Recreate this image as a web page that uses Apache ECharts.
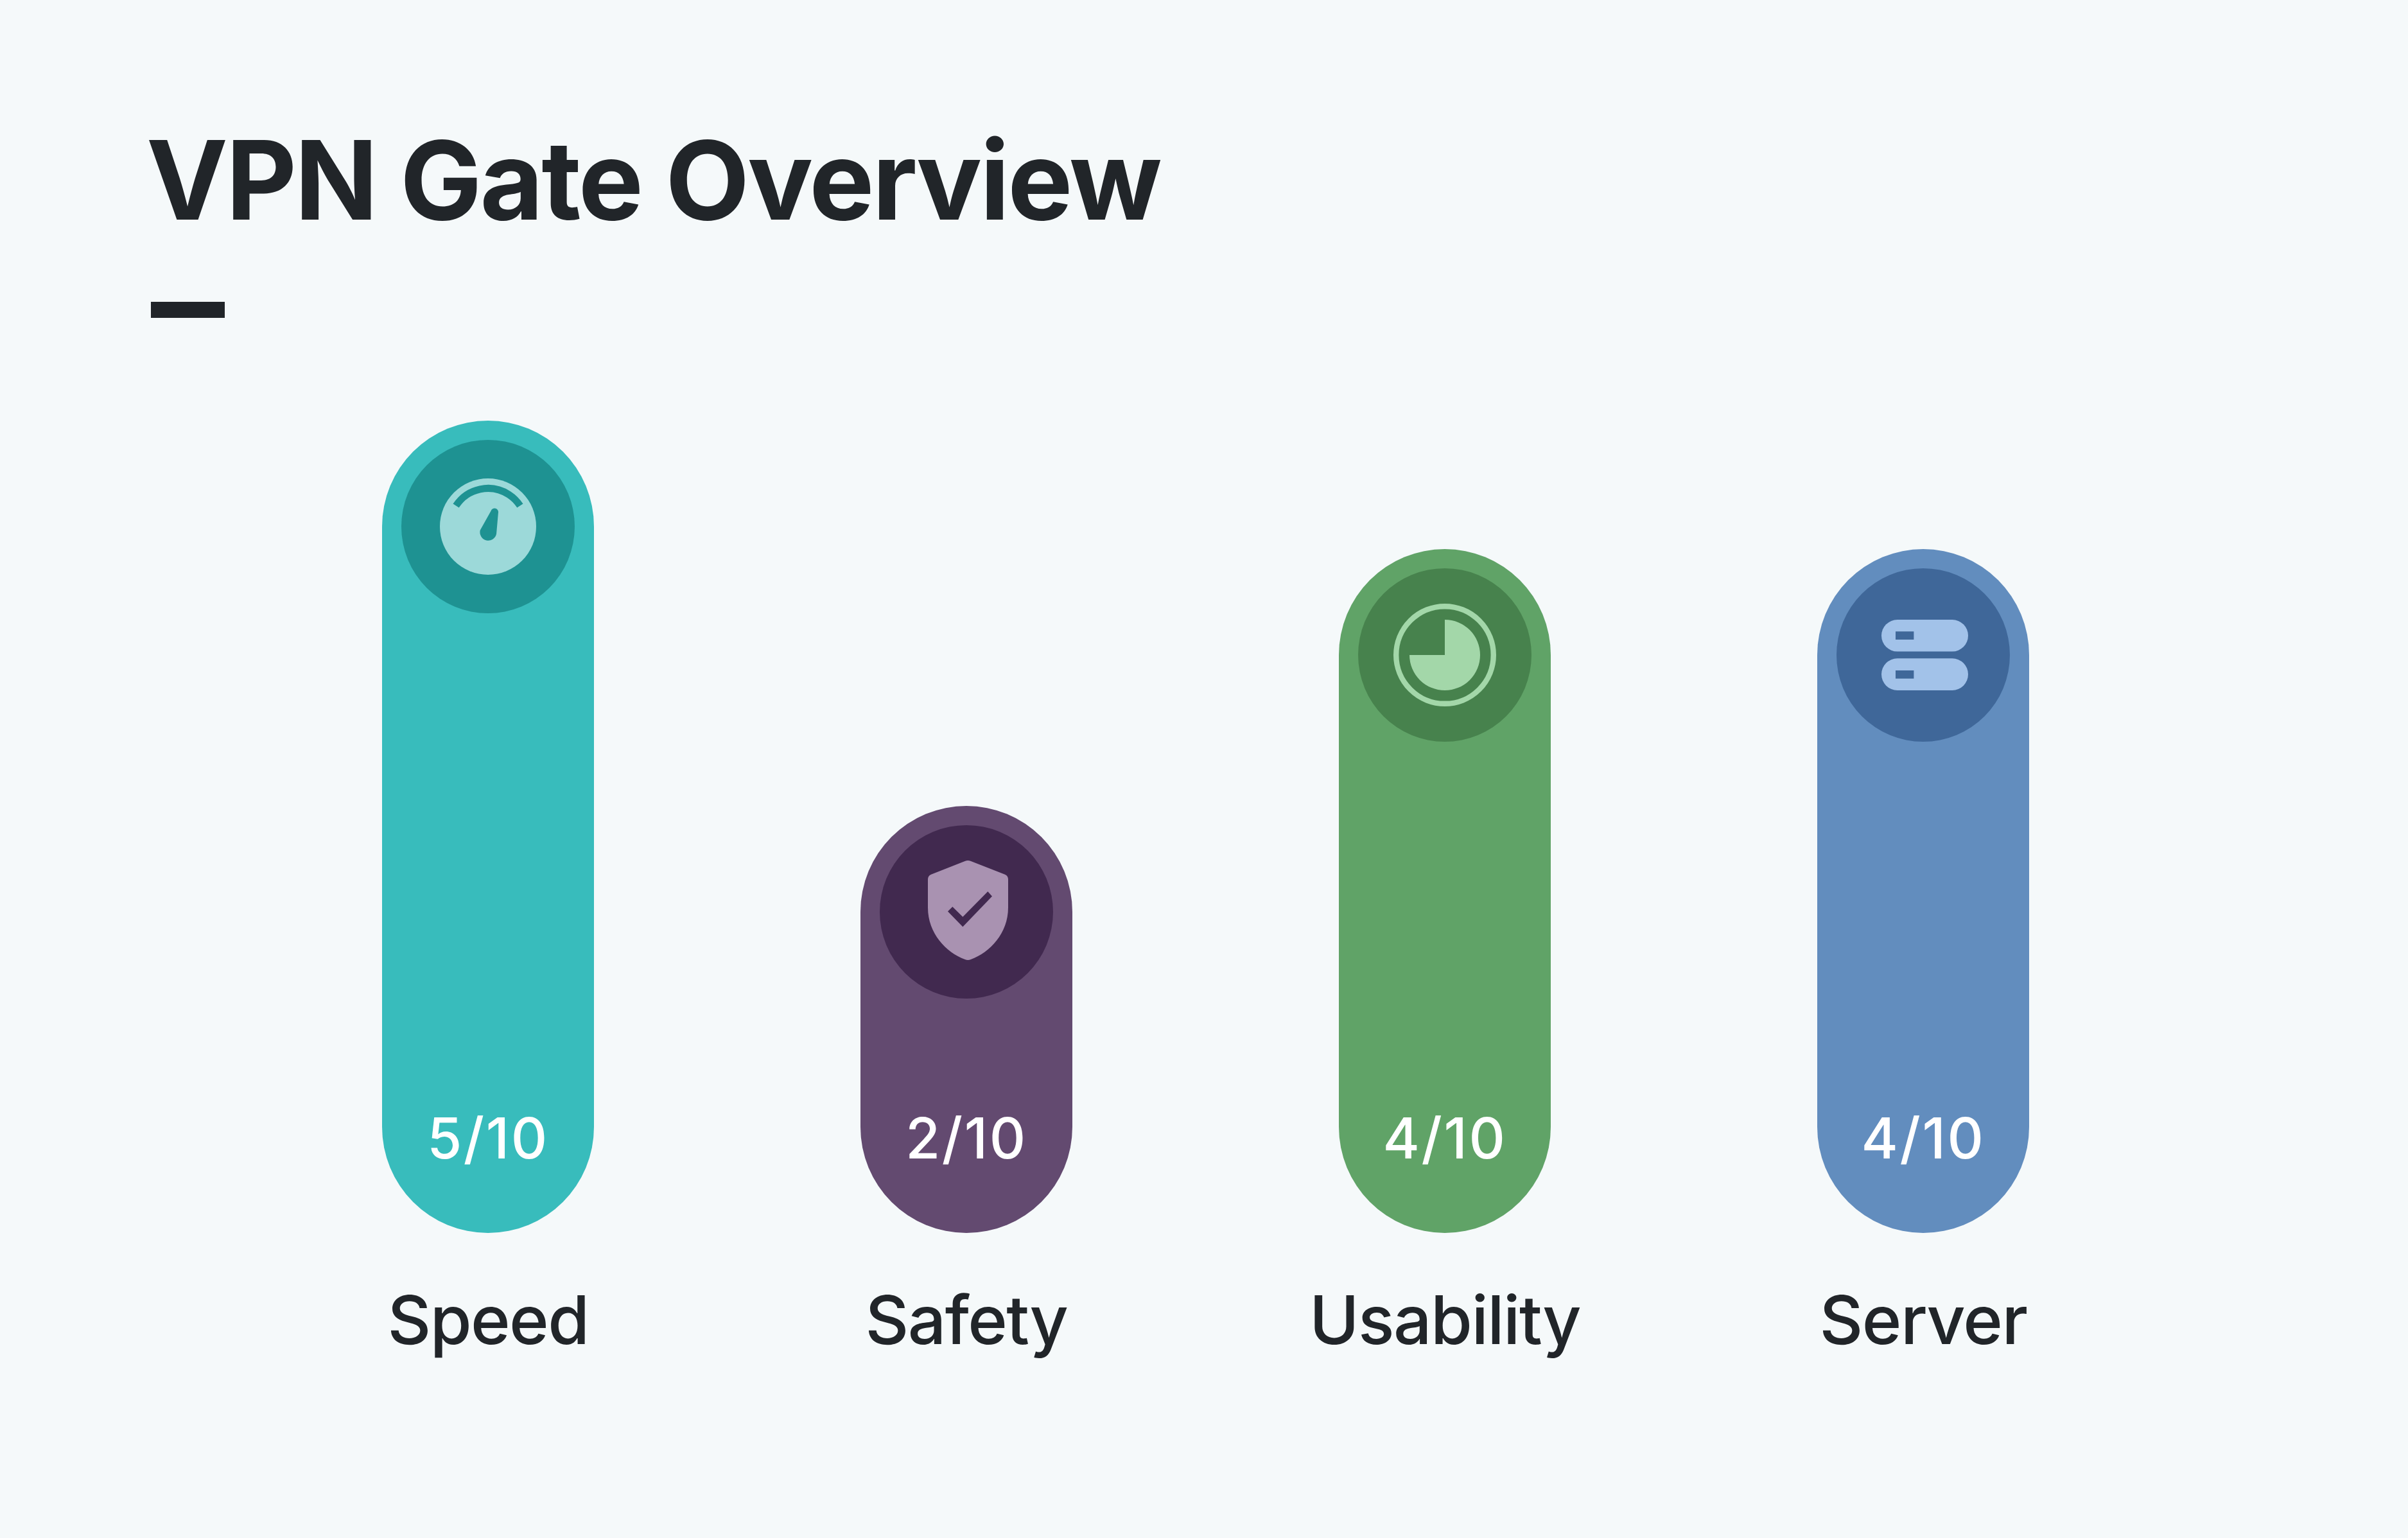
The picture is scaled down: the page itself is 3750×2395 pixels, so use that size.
<!DOCTYPE html>
<html>
<head>
<meta charset="utf-8">
<style>html,body{margin:0;padding:0;background:#f5f9fa}#c{width:3750px;height:2395px}</style>
<script src="https://cdn.jsdelivr.net/npm/echarts@6/dist/echarts.min.js"></script>
</head>
<body>
<div id="c"></div>
<script>
const titleText = 'VPN Gate Overview';
const categories = ['Speed', 'Safety', 'Usability', 'Server'];
const scores = [5, 2, 4, 4];
const maxScore = 10;
const barColors = ['#38bcbc', '#634a70', '#60a367', '#628dbe'];
const discColors = ['#1e9292', '#41294f', '#47824d', '#3f6799'];
const iconColors = ['#9cd9d9', '#a992b1', '#a3d7a9', '#a2c2e9'];
const iconKinds = ['gauge', 'shield', 'pie', 'server'];

const INK = '#212529';
const FONT = 'Inter, "Liberation Sans", sans-serif';
const BAR_W = 330, R = BAR_W / 2, DISC_R = 135;

// Letter spacing per font size (ECharts has no option for it, the canvas does).
const TRACKING = {'170px':'-3px', '87.5px':'2.6px', '105px':'-1.6px'};
const nativeFillText = CanvasRenderingContext2D.prototype.fillText;
CanvasRenderingContext2D.prototype.fillText = function (t, x, y, m) {
  const size = (this.font.match(/[\d.]+px/) || [''])[0];
  this.letterSpacing = TRACKING[size] || '0px';
  this.fontKerning = 'normal';
  return m === undefined ? nativeFillText.call(this, t, x, y) : nativeFillText.call(this, t, x, y, m);
};

function gaugeIcon(cx, cy, fg, bg) {
  const a = 57 * Math.PI / 180;
  return [
    {type:'circle', shape:{cx, cy, r:75}, style:{fill:fg}},
    {type:'arc', shape:{cx, cy, r:59.5, startAngle:-Math.PI/2 - a, endAngle:-Math.PI/2 + a, clockwise:true},
      style:{fill:null, stroke:bg, lineWidth:11, lineCap:'butt'}},
    {type:'path', shape:{
        pathData:'M -12 4 L 4.6 -25.5 A 5.8 5.8 0 0 1 16 -22 L 13.2 9.6 A 12.7 12.7 0 0 1 -12 4 Z',
        layout:'cover', x:cx-12.6, y:cy-28.4, width:28.7, height:50.2},
      style:{fill:bg}}
  ];
}
function shieldIcon(cx, cy, fg, bg) {
  const p = (x, y) => [cx + x / 3, cy + y / 3];
  return [
    {type:'path', shape:{
        pathData:'M 548 303 Q 562 297 576 303 L 735 365 Q 750 372 750 388 L 750 520 C 750 640 665 730 576 762 Q 562 768 548 762 C 460 730 375 640 375 520 L 375 388 Q 375 372 390 365 Z',
        layout:'cover', x:cx-60, y:cy-80, width:125, height:155},
      style:{fill:fg}},
    {type:'polygon', shape:{points:[p(-87,-2),p(-65,-24),p(-17,23),p(100,-95),p(120,-73),p(-17,70)]},
      style:{fill:bg}}
  ];
}
function pieIcon(cx, cy, fg) {
  return [
    {type:'circle', shape:{cx, cy, r:75.8}, style:{fill:null, stroke:fg, lineWidth:8.4}},
    {type:'sector', shape:{cx, cy, r0:0, r:55, startAngle:-Math.PI/2, endAngle:Math.PI, clockwise:true},
      style:{fill:fg}}
  ];
}
function serverIcon(cx, cy, fg, bg) {
  const out = [];
  [[-55, -36.7], [5.3, 24]].forEach(([py, sy]) => {
    out.push({type:'rect', shape:{x:cx-65, y:cy+py, width:135, height:49.6, r:24.8}, style:{fill:fg}});
    out.push({type:'rect', shape:{x:cx-43, y:cy+sy, width:28.4, height:12.7}, style:{fill:bg}});
  });
  return out;
}
const iconMakers = {gauge:gaugeIcon, shield:shieldIcon, pie:pieIcon, server:serverIcon};

function renderPill(params, api) {
  const i = api.value(0);
  const v = api.value(1);
  const top = api.coord([i, v]);
  const axisMin = params.coordSys.y + params.coordSys.height;
  const cx = top[0], topY = top[1];
  const discY = topY + R;
  const kids = [
    {type:'rect', shape:{x:cx-R, y:topY, width:BAR_W, height:axisMin-topY, r:R}, style:{fill:barColors[i]}},
    {type:'circle', shape:{cx, cy:discY, r:DISC_R}, style:{fill:discColors[i]}}
  ].concat(iconMakers[iconKinds[i]](cx, discY, iconColors[i], discColors[i]));
  kids.push({type:'text', x:cx, y:axisMin-142.5, style:{
    text:v + '/' + maxScore, fill:'#ffffff', font:'500 87.5px ' + FONT,
    textAlign:'center', textVerticalAlign:'middle'}});
  return {type:'group', children:kids};
}

const chart = echarts.init(document.getElementById('c'), null, {width:3750, height:2395, renderer:'canvas'});
chart.setOption({
  animation:false,
  backgroundColor:'#f5f9fa',
  title:{text:titleText, left:223, top:191,
    textStyle:{fontFamily:FONT, fontWeight:700, fontSize:170, color:INK, lineHeight:190}},
  graphic:[{type:'rect', shape:{x:235, y:470, width:115, height:25}, style:{fill:INK}}],
  grid:{left:387.5, width:2980, top:655, height:1265, containLabel:false},
  xAxis:{type:'category', data:categories, position:'bottom',
    axisLine:{show:false, onZero:false}, axisTick:{show:false}, splitLine:{show:false},
    axisLabel:{margin:89, color:INK, fontFamily:FONT, fontSize:105, fontWeight:500}},
  yAxis:{type:'value', min:-1.325, max:5, show:false, splitLine:{show:false}},
  series:[{type:'custom', coordinateSystem:'cartesian2d', silent:true, clip:false,
    encode:{x:0, y:1},
    data:scores.map((s, i) => [i, s]),
    renderItem:renderPill}]
});
</script>
</body>
</html>
